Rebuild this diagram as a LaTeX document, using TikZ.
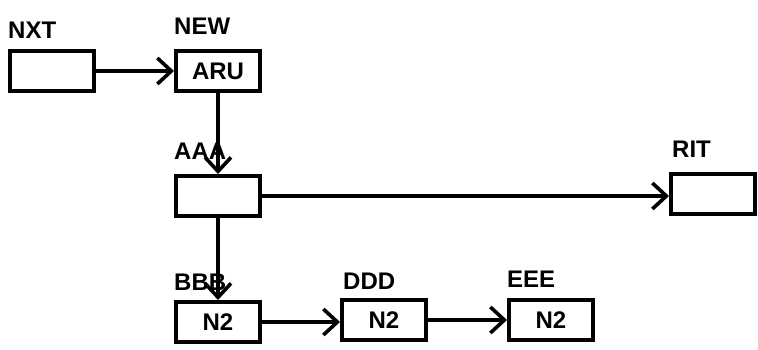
\documentclass[tikz,border=0pt]{standalone}
\usepackage{fontspec}
\setmainfont{Liberation Sans}
\usetikzlibrary{arrows.meta}
\begin{document}
\begin{tikzpicture}[x=1pt,y=-1pt,
  box/.style={draw,line width=4pt,minimum width=84pt,minimum height=40pt,inner sep=0pt,font=\fontsize{24}{24}\selectfont\bfseries},
  lbl/.style={anchor=south west,inner sep=0pt,font=\fontsize{24}{24}\selectfont\bfseries},
  conn/.style={line width=3.6pt,-{Straight Barb[length=14pt,width=26pt,line width=3.6pt]}}]
\useasboundingbox (0,0) rectangle (758,350);
\node[box] (nxt) at (52,71) {};
\node[box] (aru) at (218,71) {ARU};
\node[box] (aaa) at (218,196) {};
\node[box] (rit) at (713,194) {};
\node[box] (bbb) at (218,322) {N2};
\node[box] (ddd) at (384,320) {N2};
\node[box] (eee) at (551,320) {N2};
\node[lbl] (lnxt) at (8,39) {NXT};
\node[lbl] (lnew) at (174,35) {NEW};
\node[lbl] (laaa) at (174,160) {AAA};
\node[lbl] (lrit) at (672,158) {RIT};
\node[lbl] (lbbb) at (174,291) {BBB};
\node[lbl] (lddd) at (343,290) {DDD};
\node[lbl] (leee) at (507,288) {EEE};
\draw[conn] (nxt.east) -- (aru.west);
\draw[conn] (aru.south) -- (aaa.north);
\draw[conn] (aaa.east) -- (aaa.east -| rit.west);
\draw[conn] (aaa.south) -- (bbb.north);
\draw[conn] (bbb.east) -- (bbb.east -| ddd.west);
\draw[conn] (ddd.east) -- (eee.west);
\end{tikzpicture}
\end{document}
